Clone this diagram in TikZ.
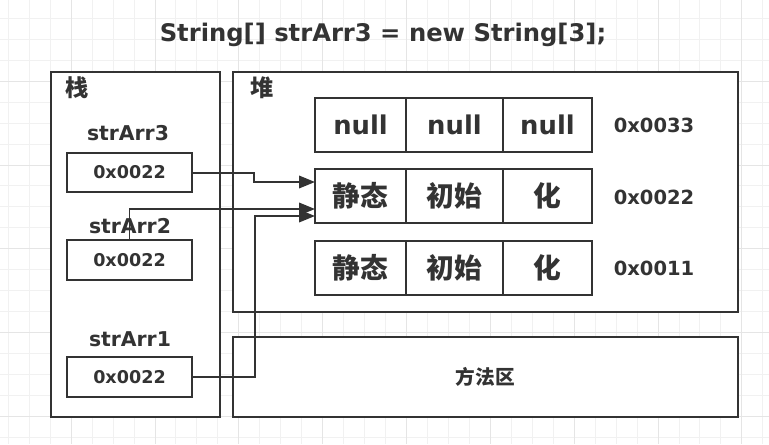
\documentclass[tikz,border=0pt]{standalone}
\usepackage{fontspec}
\usepackage{tikz}
\usetikzlibrary{arrows.meta,positioning}
\setmainfont{DejaVu Sans}
\newfontfamily\cjk{Noto Sans CJK SC}
\definecolor{darkfig}{RGB}{51, 51, 51}
\definecolor{gridminor}{RGB}{241, 241, 241}
\definecolor{gridmajor}{RGB}{229, 229, 229}
\tikzset{
    gridthin/.style={line width=0.02cm, color=gridminor},
    gridthick/.style={line width=0.02cm, color=gridmajor},
    darksolid/.style={line width=0.04cm, color=darkfig},
    darkarrow/.style={line width=0.04cm, color=darkfig, -{Triangle[length=0.32cm, width=0.25cm]}},
    varbox/.style={draw=darkfig, line width=0.04cm, minimum width=2.5cm, minimum height=0.79cm,
        inner sep=0pt, text=darkfig, font=\fontsize{10}{11}\selectfont\bfseries},
    varname/.style={text=darkfig, inner sep=0pt, font=\fontsize{11.6}{13}\selectfont\bfseries},
    cellbox/.style={draw=darkfig, line width=0.04cm, minimum height=1.08cm, inner sep=0pt, outer sep=0pt, text=darkfig},
    nullcell/.style={cellbox, font=\fontsize{14.7}{16}\selectfont\bfseries},
    hanzicell/.style={cellbox, font=\fontsize{15.8}{17}\selectfont\cjk\bfseries},
    address/.style={text=darkfig, inner sep=0pt, font=\fontsize{11.1}{12}\selectfont\bfseries},
    areatitle/.style={text=darkfig, inner sep=0pt, font=\fontsize{13.2}{14}\selectfont\cjk\bfseries}
}
\begin{document}
\begin{tikzpicture}[x=0.02cm, y=-0.02cm]
        \useasboundingbox (0,0) rectangle (769,444);
        
        % background grid
        \foreach \i in {0,...,36}
            \draw[gridthin] (8.3+20.96*\i,0) -- ++(0,444);
        \foreach \j in {0,...,20}
            \draw[gridthin] (0,18.3+20.96*\j) -- ++(769,0);
        \foreach \i in {3,7,...,35}
            \draw[gridthick] (8.3+20.96*\i,0) -- ++(0,444);
        \foreach \j in {3,7,...,19}
            \draw[gridthick] (0,18.3+20.96*\j) -- ++(769,0);
        
        \node[text=darkfig, font=\fontsize{13.8}{15}\selectfont\bfseries] (title) at (383,35) {String[] strArr3 = new String[3];};
        
        % stack, heap, method area
        \draw[darksolid, fill=white] (51,72) rectangle (220,417);
        \draw[darksolid, fill=white] (233,72) rectangle (738,312);
        \node[areatitle] (stacklbl) at (77,88) {栈};
        \node[areatitle] (heaplbl) at (262,88) {堆};
        \node[draw=darkfig, line width=0.04cm, fill=white, minimum width=10.1cm, minimum height=1.6cm,
            text=darkfig, font=\fontsize{11.2}{13}\selectfont\cjk\bfseries] (method) at (485.5,377) {方法区};
        
        % variables on the stack
        \node[varname] (n3) at (128,133) {strArr3};
        \node[varbox] (s3) at (129.5,172.5) {0x0022};
        \node[varname] (n2) at (130,226) {strArr2};
        \node[varbox] (s2) at (129.5,260) {0x0022};
        \node[varname] (n1) at (130,339) {strArr1};
        \node[varbox] (s1) at (129.5,377) {0x0022};
        
        % arrays on the heap
        \node[nullcell, minimum width=1.82cm] (h1a) at (360.5,125) {null};
        \node[nullcell, minimum width=1.94cm, right=0pt of h1a] (h1b) {null};
        \node[nullcell, minimum width=1.78cm, right=0pt of h1b] (h1c) {null};
        \node[hanzicell, minimum width=1.82cm] (h2a) at (360.5,196) {静态};
        \node[hanzicell, minimum width=1.94cm, right=0pt of h2a] (h2b) {初始};
        \node[hanzicell, minimum width=1.78cm, right=0pt of h2b] (h2c) {化};
        \node[hanzicell, minimum width=1.82cm] (h3a) at (360.5,268) {静态};
        \node[hanzicell, minimum width=1.94cm, right=0pt of h3a] (h3b) {初始};
        \node[hanzicell, minimum width=1.78cm, right=0pt of h3b] (h3c) {化};
        
        \node[address] (ad1) at (654,125) {0x0033};
        \node[address] (ad2) at (654,197) {0x0022};
        \node[address] (ad3) at (654,268) {0x0011};
        
        % references
        \draw[darkarrow] (s3.east) -- ++(61,0) |- (h2a.west |- 0,182);
        \draw[darkarrow] (s2.north) |- (h2a.west |- 0,209);
        \draw[darkarrow] (s1.east) -- ++(62,0) |- (h2a.west |- 0,216);
        
    \end{tikzpicture}
\end{document}
